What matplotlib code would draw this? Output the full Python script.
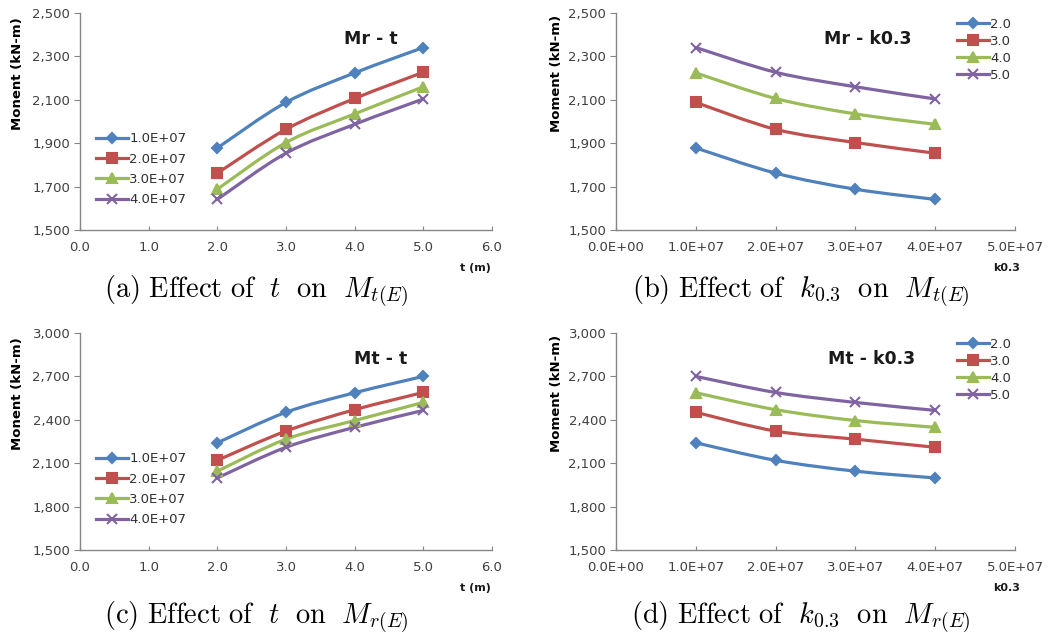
import numpy as np
import matplotlib.pyplot as plt
from matplotlib.path import Path
from matplotlib.patches import PathPatch
from matplotlib.lines import Line2D

## Data
t_vals = [2.0, 3.0, 4.0, 5.0]
k_vals = [1.0e7, 2.0e7, 3.0e7, 4.0e7]
k_labels = ['1.0E+07', '2.0E+07', '3.0E+07', '4.0E+07']
t_labels = ['2.0', '3.0', '4.0', '5.0']

# rows: t = 2..5, columns: k0.3 = 1e7..4e7
mr = np.array([
    [1878, 1762, 1688, 1641],
    [2088, 1964, 1903, 1854],
    [2224, 2106, 2035, 1987],
    [2341, 2227, 2160, 2104],
])
mt = np.array([
    [2241, 2120, 2045, 1998],
    [2452, 2322, 2266, 2210],
    [2587, 2470, 2395, 2348],
    [2700, 2589, 2520, 2465],
])

colors = ['#4F81BD', '#C0504D', '#9BBB59', '#8064A2']
markers = ['D', 's', '^', 'x']
msizes = [5.5, 7, 6.5, 7.5]
LW = 2.3

plt.rcParams['mathtext.fontset'] = 'cm'
plt.rcParams['font.family'] = 'DejaVu Sans'

fig = plt.figure(figsize=(10.51, 6.43), dpi=100)

W, H = 1051.0, 643.0
def box(l, r, t, b):
    return [l / W, 1 - b / H, (r - l) / W, (b - t) / H]

ax_a = fig.add_axes(box(80, 492, 13, 230))
ax_b = fig.add_axes(box(616, 1015, 13, 230))
ax_c = fig.add_axes(box(80, 492, 333, 550))
ax_d = fig.add_axes(box(616, 1015, 333, 550))

def smooth_line(ax, x, y, color, marker, ms):
    # Excel style smoothed line: cubic bezier through the data points
    p = np.column_stack([x, y]).astype(float)
    ext = np.vstack([p[0], p, p[-1]])
    verts = [tuple(p[0])]
    codes = [Path.MOVETO]
    for i in range(len(p) - 1):
        c1 = p[i] + (ext[i + 2] - ext[i]) / 6.0
        c2 = p[i + 1] - (ext[i + 3] - ext[i + 1]) / 6.0
        verts += [tuple(c1), tuple(c2), tuple(p[i + 1])]
        codes += [Path.CURVE4] * 3
    ax.add_patch(PathPatch(Path(verts, codes), fill=False, edgecolor=color,
                           lw=LW, capstyle='round', joinstyle='round'))
    ax.plot(x, y, ls='none', marker=marker, ms=ms, color=color, mew=1.5)
    return Line2D([], [], color=color, lw=LW, marker=marker, ms=ms, mew=1.5)

def style(ax, ylim, ystep, ylabel):
    for s in ['top', 'right']:
        ax.spines[s].set_visible(False)
    for s in ['left', 'bottom']:
        ax.spines[s].set_color('#868686')
        ax.spines[s].set_linewidth(1.0)
    yt = np.arange(ylim[0], ylim[1] + 1, ystep)
    ax.set_ylim(*ylim)
    ax.set_yticks(yt)
    ax.set_yticklabels(['{:,}'.format(int(v)) for v in yt])
    ax.tick_params(axis='y', direction='out', length=4, color='#868686',
                   labelsize=9.5, labelcolor='#404040', pad=3)
    ax.tick_params(axis='x', direction='in', length=3, color='#868686',
                   labelsize=9.5, labelcolor='#404040', pad=8)
    ax.set_ylabel(ylabel, fontsize=9.5, fontweight='bold')

# (a) Mr - t
h_a = [smooth_line(ax_a, t_vals, mr[:, j], colors[j], markers[j], msizes[j]) for j in range(4)]
ax_a.set_xlim(0, 6)
ax_a.set_xticks(np.arange(0, 6.1, 1.0))
ax_a.set_xticklabels(['{:.1f}'.format(v) for v in np.arange(0, 6.1, 1.0)])
style(ax_a, (1500, 2500), 200, 'Monent (kN-m)')

# (b) Mr - k0.3
h_b = [smooth_line(ax_b, k_vals, mr[i, :], colors[i], markers[i], msizes[i]) for i in range(4)]
ax_b.set_xlim(0, 5e7)
ax_b.set_xticks(np.arange(0, 5.1e7, 1e7))
ax_b.set_xticklabels(['0.0E+00', '1.0E+07', '2.0E+07', '3.0E+07', '4.0E+07', '5.0E+07'])
style(ax_b, (1500, 2500), 200, 'Moment (kN-m)')

# (c) Mt - t
h_c = [smooth_line(ax_c, t_vals, mt[:, j], colors[j], markers[j], msizes[j]) for j in range(4)]
ax_c.set_xlim(0, 6)
ax_c.set_xticks(np.arange(0, 6.1, 1.0))
ax_c.set_xticklabels(['{:.1f}'.format(v) for v in np.arange(0, 6.1, 1.0)])
style(ax_c, (1500, 3000), 300, 'Monent (kN-m)')

# (d) Mt - k0.3
h_d = [smooth_line(ax_d, k_vals, mt[i, :], colors[i], markers[i], msizes[i]) for i in range(4)]
ax_d.set_xlim(0, 5e7)
ax_d.set_xticks(np.arange(0, 5.1e7, 1e7))
ax_d.set_xticklabels(['0.0E+00', '1.0E+07', '2.0E+07', '3.0E+07', '4.0E+07', '5.0E+07'])
style(ax_d, (1500, 3000), 300, 'Moment (kN-m)')

# y labels sit in the upper part of the axis, like the Excel charts
for ax in [ax_a, ax_c]:
    ax.yaxis.set_label_coords(-0.137, 0.72)
for ax in [ax_b, ax_d]:
    ax.yaxis.set_label_coords(-0.132, 0.72)

# inner titles
for ax, txt, xf in [(ax_a, 'Mr - t', 0.705), (ax_b, 'Mr - k0.3', 0.63),
                    (ax_c, 'Mt - t', 0.73), (ax_d, 'Mt - k0.3', 0.64)]:
    ax.text(xf, 0.88, txt, transform=ax.transAxes, fontsize=12.5,
            fontweight='bold', ha='center', va='center', color='#1a1a1a')

# legends
for ax, hs in [(ax_a, h_a), (ax_c, h_c)]:
    ax.legend(hs, k_labels, loc='center left', bbox_to_anchor=(0.04, 0.28),
              frameon=False, fontsize=9.5, handlelength=2.4, handletextpad=0.1,
              labelspacing=0.55, borderpad=0, borderaxespad=0, labelcolor='#303030')
for ax, hs in [(ax_b, h_b), (ax_d, h_d)]:
    ax.legend(hs, t_labels, loc='center right', bbox_to_anchor=(0.99, 0.83),
              frameon=False, fontsize=9.5, handlelength=2.4, handletextpad=0.1,
              labelspacing=0.3, borderpad=0, borderaxespad=0, labelcolor='#303030')

# axis titles at right end
for ax, txt in [(ax_a, 't (m)'), (ax_c, 't (m)'), (ax_b, 'k0.3'), (ax_d, 'k0.3')]:
    ax.text(0.96 if txt == 't (m)' else 0.98, -0.175, txt, transform=ax.transAxes,
            fontsize=8, fontweight='bold', ha='center', va='center', color='#1a1a1a')

# captions
caps = [(256, 292, r'$\mathrm{(a)\ Effect\ of}\ \ t\ \ \mathrm{on}\ \ M_{t(E)}$'),
        (801, 292, r'$\mathrm{(b)\ Effect\ of}\ \ k_{0.3}\ \ \mathrm{on}\ \ M_{t(E)}$'),
        (256, 618, r'$\mathrm{(c)\ Effect\ of}\ \ t\ \ \mathrm{on}\ \ M_{r(E)}$'),
        (801, 618, r'$\mathrm{(d)\ Effect\ of}\ \ k_{0.3}\ \ \mathrm{on}\ \ M_{r(E)}$')]
for x, y, s in caps:
    fig.text(x / W, 1 - y / H, s, fontsize=20.5, ha='center', va='center')

fig.savefig('out.png', dpi=100, facecolor='white')
